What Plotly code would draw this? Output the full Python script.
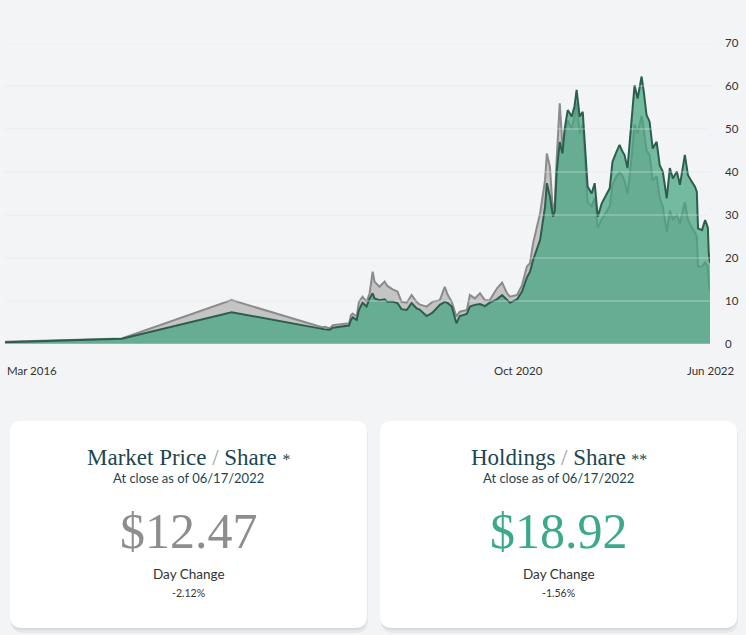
import plotly.graph_objects as go

# chart data
dates = [
    "2016-03-01", "2017-03-17", "2018-03-10", "2018-12-30",
    "2019-01-08", "2019-01-24", "2019-02-03", "2019-02-26", "2019-03-28", "2019-04-03", "2019-04-09",
    "2019-04-22", "2019-04-29", "2019-05-11", "2019-05-24", "2019-06-03", "2019-06-13", "2019-06-19",
    "2019-07-05", "2019-07-22", "2019-07-31", "2019-08-17", "2019-09-02", "2019-09-15", "2019-10-02",
    "2019-10-18", "2019-11-03", "2019-11-13", "2019-12-06", "2019-12-25",
    "2020-01-18", "2020-02-03", "2020-02-13", "2020-02-26", "2020-03-12", "2020-03-23", "2020-04-15",
    "2020-04-25", "2020-05-11", "2020-05-28", "2020-06-13", "2020-06-29", "2020-07-22", "2020-08-08",
    "2020-08-24", "2020-09-03", "2020-09-26", "2020-10-12", "2020-10-28", "2020-11-07", "2020-11-17",
    "2020-12-10", "2020-12-26",
    "2021-01-01", "2021-01-11", "2021-01-21", "2021-01-27", "2021-02-02", "2021-02-12", "2021-02-21",
    "2021-02-28", "2021-03-10", "2021-03-23", "2021-04-01", "2021-04-08", "2021-04-18", "2021-04-28",
    "2021-05-04", "2021-05-14", "2021-05-27", "2021-06-06", "2021-06-16", "2021-06-29", "2021-07-25",
    "2021-08-03", "2021-08-16", "2021-08-26", "2021-09-05", "2021-09-11", "2021-09-21", "2021-10-04",
    "2021-10-14", "2021-10-24", "2021-11-06", "2021-11-13", "2021-11-22", "2021-12-02", "2021-12-12",
    "2021-12-25",
    "2022-01-04", "2022-01-14", "2022-01-27", "2022-02-06", "2022-02-16", "2022-03-01", "2022-03-11",
    "2022-03-27", "2022-04-06", "2022-04-19", "2022-04-29", "2022-05-05", "2022-05-09", "2022-05-22",
    "2022-06-01", "2022-06-07", "2022-06-10", "2022-06-13", "2022-06-17",
]
market_price = [
    0.5, 1.3, 10.2, 3.9,
    4.0, 3.6, 4.4, 4.6, 4.8, 6.7, 7.1, 6.4, 9.8, 11.0, 9.8, 11.8, 16.8, 14.5, 13.3, 14.5, 13.5, 12.7,
    12.2, 9.8, 9.6, 11.4, 9.8, 9.2, 8.7, 9.8,
    10.2, 13.3, 11.4, 9.8, 6.4, 7.5, 7.9, 11.4, 10.6, 11.8, 10.2, 10.2, 12.9, 14.3, 11.8, 11.0, 11.4,
    13.7, 18.0, 18.8, 23.4, 30.4, 38.1,
    44.3, 41.2, 30.5, 33.0, 43.0, 56.0, 46.0, 49.0, 52.0, 50.0, 53.0, 56.0, 49.0, 51.0, 45.0, 33.0,
    32.0, 34.0, 27.0, 29.0, 32.0, 37.0, 39.0, 40.0, 39.0, 38.0, 35.0, 43.0, 51.0, 49.0, 53.0, 50.0,
    45.0, 44.0, 38.0, 39.0,
    34.0, 32.0, 26.0, 31.0, 29.0, 30.0, 28.0, 33.0, 29.0, 27.0, 26.0, 25.0, 18.0, 18.0, 19.0, 18.5,
    18.0, 14.0, 12.47,
]
holdings = [
    0.4, 1.2, 7.4, 3.4,
    3.4, 3.3, 3.8, 4.0, 4.3, 5.6, 6.2, 5.6, 7.9, 9.6, 8.7, 10.6, 11.8, 10.6, 10.2, 10.4, 9.8, 9.8,
    9.5, 8.1, 7.9, 9.5, 8.3, 8.0, 6.5, 7.3,
    9.1, 9.8, 9.5, 8.7, 4.8, 6.5, 7.0, 8.7, 9.1, 9.3, 8.8, 9.6, 10.4, 11.4, 10.2, 9.6, 10.4, 12.2,
    15.5, 16.8, 19.5, 24.2, 31.9,
    37.4, 34.3, 29.6, 31.0, 40.0, 47.0, 44.3, 50.0, 54.4, 52.9, 55.2, 59.1, 52.9, 54.0, 47.1, 36.6,
    35.0, 37.4, 29.6, 32.7, 36.2, 42.4, 44.7, 46.3, 44.7, 44.0, 40.9, 50.9, 60.2, 57.1, 62.2, 58.7,
    53.3, 51.7, 45.5, 47.0,
    41.6, 40.1, 33.9, 40.9, 38.5, 40.1, 37.0, 44.0, 39.3, 37.7, 36.6, 35.4, 26.9, 26.5, 28.8, 27.7,
    27.0, 21.0, 18.92,
]
y_ticks = [0, 10, 20, 30, 40, 50, 60, 70]
x_tick_dates = ["2016-03-01", "2020-10-01", "2022-06-17"]
x_tick_text = ["Mar 2016", "Oct 2020", "Jun 2022"]

# summary cards
card_titles = ["Market Price <span style='color:#9aa3a6'>/</span> Share <span style='font-size:16px'>*</span>",
               "Holdings <span style='color:#9aa3a6'>/</span> Share <span style='font-size:16px'>**</span>"]
card_dates = ["At close as of 06/17/2022", "At close as of 06/17/2022"]
card_values = ["$12.47", "$18.92"]
card_changes = ["-2.12%", "-1.56%"]

W, H = 746, 635
PL, PR, PT, PB = 5, 710, 43, 344  # plot area in pixels
BG = "#f3f4f6"
SANS = "Lato, 'Open Sans', sans-serif"
SERIF = "'Liberation Serif', 'DejaVu Serif', serif"


def px(p):
    return (p - PL) / (PR - PL)


def py(p):
    return (PB - p) / (PB - PT)


def rounded(x0, y0, x1, y1, r):
    pts = [
        "M", px(x0 + r), py(y0), "L", px(x1 - r), py(y0),
        "Q", px(x1), py(y0), px(x1), py(y0 + r), "L", px(x1), py(y1 - r),
        "Q", px(x1), py(y1), px(x1 - r), py(y1), "L", px(x0 + r), py(y1),
        "Q", px(x0), py(y1), px(x0), py(y1 - r), "L", px(x0), py(y0 + r),
        "Q", px(x0), py(y0), px(x0 + r), py(y0), "Z",
    ]
    return " ".join(str(round(v, 5)) if not isinstance(v, str) else v for v in pts)


fig = go.Figure()
fig.add_trace(go.Scatter(
    x=dates, y=market_price, mode="lines", fill="tozeroy",
    line=dict(color="#8b8b8b", width=2), fillcolor="rgba(178,178,178,0.72)",
    hoverinfo="skip",
))
fig.add_trace(go.Scatter(
    x=dates, y=holdings, mode="lines", fill="tozeroy",
    line=dict(color="#2c5e4e", width=2), fillcolor="rgba(66,164,128,0.72)",
    hoverinfo="skip",
))

shapes = []
for v in y_ticks:
    shapes.append(dict(type="line", xref="paper", yref="y", x0=0, x1=1, y0=v, y1=v,
                       line=dict(color="rgba(228,231,235,0.55)", width=1), layer="above"))

annotations = []
anchors = ["left", "center", "center"]
for d, t, a in zip(x_tick_dates, x_tick_text, anchors):
    annotations.append(dict(x=d, y=0, xref="x", yref="paper", text=t, showarrow=False,
                            xanchor=a, yanchor="middle", yshift=-26,
                            font=dict(family=SANS, size=11.5, color="#333333")))

cards = [(10, 367), (380, 737)]
for i, (x0, x1) in enumerate(cards):
    cx = (x0 + x1) / 2
    shapes.append(dict(type="path", xref="paper", yref="paper", path=rounded(x0 + 1, 424, x1 + 1, 633, 13),
                       fillcolor="rgba(0,0,0,0.05)", line=dict(width=0), layer="below"))
    shapes.append(dict(type="path", xref="paper", yref="paper", path=rounded(x0, 422, x1, 630, 13),
                       fillcolor="rgba(0,0,0,0.06)", line=dict(width=0), layer="below"))
    shapes.append(dict(type="path", xref="paper", yref="paper", path=rounded(x0, 421, x1, 628, 12),
                       fillcolor="#ffffff", line=dict(width=0), layer="below"))
    annotations += [
        dict(x=px(cx), y=py(457), text=card_titles[i], font=dict(family=SERIF, size=23, color="#1d4650")),
        dict(x=px(cx), y=py(478), text=card_dates[i], font=dict(family=SANS, size=13, color="#1d4650")),
        dict(x=px(cx), y=py(531), text=card_values[i],
             font=dict(family=SERIF, size=50, color="#8d8d8d" if i == 0 else "#3ba98a")),
        dict(x=px(cx), y=py(574), text="Day Change", font=dict(family=SANS, size=13.5, color="#333333")),
        dict(x=px(cx), y=py(593), text=card_changes[i], font=dict(family=SANS, size=10.5, color="#333333")),
    ]
    for a in annotations[-5:]:
        a.update(xref="paper", yref="paper", showarrow=False, xanchor="center", yanchor="middle")

fig.update_layout(
    width=W, height=H,
    margin=dict(l=PL, r=W - PR, t=PT, b=H - PB, pad=0),
    paper_bgcolor=BG, plot_bgcolor=BG,
    showlegend=False,
    shapes=shapes, annotations=annotations,
)
fig.update_xaxes(type="date", range=[dates[0], dates[-1]], showgrid=False, showticklabels=False,
                 zeroline=False, showline=False, fixedrange=True)
fig.update_yaxes(side="right", range=[0, 70], tickvals=y_ticks, showgrid=False, zeroline=False,
                 showline=False, ticks="", ticklabelstandoff=14,
                 tickfont=dict(family=SANS, size=11.5, color="#333333"), fixedrange=True)

fig.write_html("out.html", config={"displayModeBar": False},
               post_script="document.body.style.margin='0';document.body.style.overflow='hidden';")
